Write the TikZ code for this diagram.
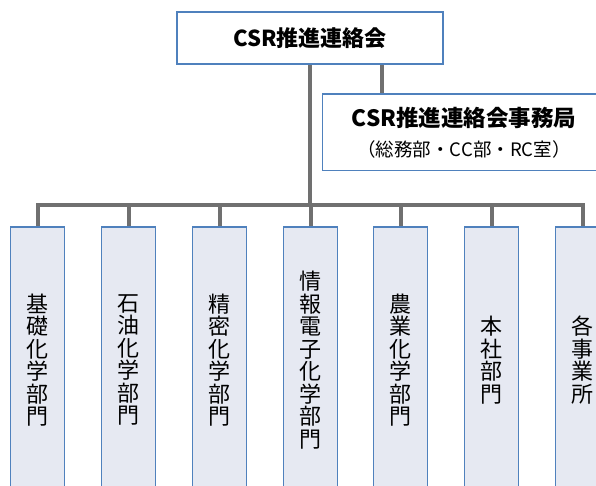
\documentclass[tikz,border=0pt]{standalone}
\usepackage{fontspec}
\setmainfont{Noto Sans CJK JP}
\definecolor{bordblue}{HTML}{4F81BD}
\definecolor{boxfill}{HTML}{E6E9F2}
\definecolor{linegrey}{HTML}{707070}
\tikzset{
  headbox/.style={draw=bordblue, line width=1.2pt, fill=white, inner sep=0pt},
  deptbox/.style={fill=boxfill, minimum width=53pt, minimum height=300pt, inner sep=0pt},
  deptedge/.style={draw=bordblue, line width=1.2pt},
  depttext/.style={align=center, inner sep=0pt, font=\fontsize{22}{22.5}\selectfont},
  conn/.style={draw=linegrey, line width=4pt, line join=miter}
}
\begin{document}
\begin{tikzpicture}[x=1pt,y=-1pt]
\useasboundingbox (0,0) rectangle (596,485);
\clip (0,0) rectangle (596,485);
% coordinates for connectors
\coordinate (bus) at (310,205);
\coordinate (sx) at (382,0);
% nodes
\node[headbox, minimum width=266pt, minimum height=52pt, font=\fontsize{22}{24}\selectfont\bfseries] (top) at (310,38) {CSR推進連絡会};
\node[headbox, minimum width=284pt, minimum height=76pt, anchor=north west] (sec) at (322,94) {};
\node[font=\fontsize{22.5}{24}\selectfont\bfseries] (sect) at (464,118) {CSR推進連絡会事務局};
\node[font=\fontsize{18.5}{20}\selectfont] (secs) at (464,149) {（総務部・CC部・RC室）};
\foreach \i/\x/\t in {1/37.5/{基\\礎\\化\\学\\部\\門},
                      2/128.5/{石\\油\\化\\学\\部\\門},
                      3/219.5/{精\\密\\化\\学\\部\\門},
                      4/310.5/{情\\報\\電\\子\\化\\学\\部\\門},
                      5/400.5/{農\\業\\化\\学\\部\\門},
                      6/491.5/{本\\社\\部\\門},
                      7/582.5/{各\\事\\業\\所}}{
  \node[deptbox, anchor=north] (d\i) at (\x,227) {};
  \draw[deptedge] (d\i.south west) -- (d\i.north west) -- (d\i.north east) -- (d\i.south east);
  \node[depttext] (t\i) at (\x,360) {\t};
}
% connectors
\draw[conn] (top.south) -- (bus);
\draw[conn] (top.south -| sx) -- (sec.north -| sx);
\draw[conn] (d1.north) -- (d1.north |- bus) -- (d7.north |- bus) -- (d7.north);
\foreach \i in {2,3,4,5,6}{
  \draw[conn] (d\i.north |- bus) -- (d\i.north);
}
% redraw borders over connector ends
\foreach \i in {1,...,7}{
  \draw[deptedge] (d\i.north west) -- (d\i.north east);
}
\draw[deptedge] (top.south west) -- (top.south east);
\draw[deptedge] (sec.north west) -- (sec.north east);
\end{tikzpicture}
\end{document}
